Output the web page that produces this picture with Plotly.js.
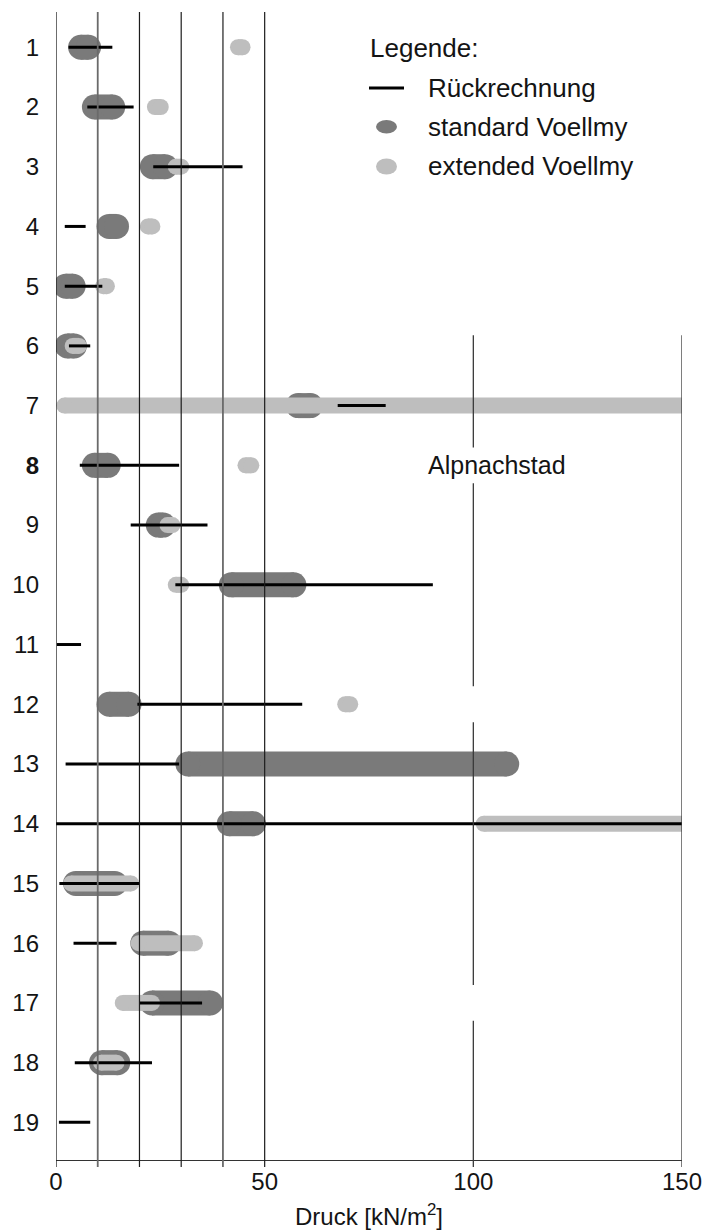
<!DOCTYPE html>
<html>
<head>
<meta charset="utf-8">
<script src="https://cdn.plot.ly/plotly-3.0.1.min.js"></script>
<style>
  html, body { margin: 0; padding: 0; background: #ffffff; }
  #chart { width: 703px; height: 1231px; }
</style>
</head>
<body>
<div id="chart"></div>
<script>
// ---------------- data ----------------
const rows = [1, 2, 3, 4, 5, 6, 7, 8, 9, 10, 11, 12, 13, 14, 15, 16, 17, 18, 19];
const rowLabels = ['1', '2', '3', '4', '5', '6', '7', '<b>8</b>', '9', '10', '11', '12', '13', '14', '15', '16', '17', '18', '19'];

// Rückrechnung (back-calculation) ranges [kN/m²]
const rueckLo = [3.0, 7.5, 23.3, 2.1, 2.1, 3.1, 67.5, 5.7, 17.9, 28.6, 0.2, 19.5, 2.3, 0.0, 0.8, 4.2, 20.0, 4.5, 0.7];
const rueckHi = [13.5, 18.6, 44.7, 7.1, 11.1, 8.2, 79.0, 29.5, 36.3, 90.3, 6.0, 59.0, 29.5, 150.0, 20.0, 14.5, 35.0, 23.0, 8.2];

// standard Voellmy ranges
const stdLo = [5.9, 9.2, 23.1, 12.7, 2.3, 2.7, 58.0, 9.2, 24.5, 42.0, null, 12.7, 31.6, 41.5, 4.7, 20.8, 23.0, 10.9, null];
const stdHi = [7.8, 13.6, 26.2, 14.5, 4.1, 4.4, 61.0, 12.5, 25.7, 57.0, null, 17.5, 108.0, 47.3, 14.1, 27.0, 37.0, 14.8, null];

// extended Voellmy ranges
const extLo = [43.6, 23.7, 28.7, 22.0, 11.3, 4.0, 2.0, 45.4, 26.7, 28.7, null, 69.3, null, 102.5, 3.6, 19.8, 16.0, 10.8, null];
const extHi = [44.7, 25.1, 30.0, 23.1, 12.2, 5.5, 155.0, 46.8, 27.9, 30.0, null, 70.5, null, 155.0, 18.0, 33.3, 23.0, 14.5, null];

const xTickVals = [0, 50, 100, 150];
const xTickText = ['0', '50', '100', '150'];
const gridFull = [0, 10, 20, 30, 40, 50];
const gridPartial = [100, 150];
const gapRows100 = [8, 12, 17];

const placeLabel = 'Alpnachstad';
const placeX = 105.7;
const placeRow = 8;

const legendTitle = 'Legende:';
const legendNames = ['Rückrechnung', 'standard Voellmy', 'extended Voellmy'];
const xTitle = 'Druck [kN/m<sup>2</sup>]';

// ---------------- styles ----------------
const DARK = '#7a7a7a';
const LIGHT = '#bebebe';
const BLACK = '#000000';
const FONT = 'Liberation Sans, Arial, Helvetica, sans-serif';
const TXT = '#141414';
const gridColor = {0: '#1c1c1c', 10: '#6a6a6a', 20: '#1c1c1c', 30: '#1c1c1c', 40: '#6a6a6a', 50: '#1c1c1c'};
const gridWidth = {0: 1.3, 10: 1.8, 20: 1.2, 30: 1.2, 40: 1.8, 50: 1.2};
const Y_TOP = 0.41, Y_BOT = 19.63;
const PARTIAL_TOP = 5.82;
const GAP_HALF = 0.3;
const TICK_PX = 7;

// layout geometry (pixels)
const W = 703, H = 1231;
const M = {l: 56, r: 21, t: 12, b: 71};
const plotW = W - M.l - M.r, plotH = H - M.t - M.b;
const px = v => (v - M.l) / plotW;          // pixel x -> paper
const py = v => (H - M.b - v) / plotH;      // pixel y -> paper
const tickBelow = -TICK_PX / plotH;

function segments(lo, hi) {
  const x = [], y = [];
  for (let i = 0; i < rows.length; i++) {
    if (lo[i] === null || hi[i] === null) continue;
    x.push(lo[i], hi[i], null);
    y.push(rows[i], rows[i], null);
  }
  return {x, y};
}

const sStd = segments(stdLo, stdHi);
const sExt = segments(extLo, extHi);
const sRueck = segments(rueckLo, rueckHi);

const traces = [
  {
    type: 'scatter', mode: 'lines+markers', name: legendNames[1],
    x: sStd.x, y: sStd.y, connectgaps: false, cliponaxis: true,
    line: {color: DARK, width: 25},
    marker: {color: DARK, size: 25, line: {width: 0}},
    showlegend: false, hoverinfo: 'skip'
  },
  {
    type: 'scatter', mode: 'lines+markers', name: legendNames[2],
    x: sExt.x, y: sExt.y, connectgaps: false, cliponaxis: true,
    line: {color: LIGHT, width: 16},
    marker: {color: LIGHT, size: 16, line: {width: 0}},
    showlegend: false, hoverinfo: 'skip'
  },
  {
    type: 'scatter', mode: 'lines', name: legendNames[0],
    x: sRueck.x, y: sRueck.y, connectgaps: false,
    line: {color: BLACK, width: 3},
    showlegend: false, hoverinfo: 'skip'
  }
];

const shapes = [];
gridFull.forEach(v => {
  shapes.push({type: 'line', xref: 'x', yref: 'paper', x0: v, x1: v, y0: tickBelow, y1: 1,
    line: {color: gridColor[v], width: gridWidth[v]}, layer: 'above'});
});
gridPartial.forEach(v => {
  let cuts = [PARTIAL_TOP];
  if (v === 100) gapRows100.forEach(g => { cuts.push(g - GAP_HALF, g + GAP_HALF); });
  cuts.push(Y_BOT);
  for (let i = 0; i < cuts.length; i += 2) {
    shapes.push({type: 'line', xref: 'x', yref: 'y', x0: v, x1: v, y0: cuts[i], y1: cuts[i + 1],
      line: {color: '#3a3a3a', width: 1.3}, layer: 'above'});
  }
  // tick mark below the axis
  shapes.push({type: 'line', xref: 'x', yref: 'paper', x0: v, x1: v, y0: tickBelow, y1: 0,
    line: {color: '#3a3a3a', width: 1.3}, layer: 'above'});
});

// manual legend
shapes.push({type: 'line', xref: 'paper', yref: 'paper', x0: px(369), x1: px(404), y0: py(88), y1: py(88),
  line: {color: BLACK, width: 3}, layer: 'above'});
shapes.push({type: 'circle', xref: 'paper', yref: 'paper', x0: px(376), x1: px(397), y0: py(120), y1: py(133.5),
  fillcolor: DARK, line: {width: 0}, layer: 'above'});
shapes.push({type: 'circle', xref: 'paper', yref: 'paper', x0: px(376), x1: px(397), y0: py(158.5), y1: py(174.5),
  fillcolor: LIGHT, line: {width: 0}, layer: 'above'});

const annotations = [
  {xref: 'paper', yref: 'paper', x: px(368), y: py(48), xanchor: 'left', yanchor: 'middle',
   text: legendTitle, showarrow: false, font: {family: FONT, size: 26, color: TXT}},
  {xref: 'paper', yref: 'paper', x: px(426), y: py(88), xanchor: 'left', yanchor: 'middle',
   text: legendNames[0], showarrow: false, font: {family: FONT, size: 26, color: TXT}},
  {xref: 'paper', yref: 'paper', x: px(426), y: py(127), xanchor: 'left', yanchor: 'middle',
   text: legendNames[1], showarrow: false, font: {family: FONT, size: 26, color: TXT}},
  {xref: 'paper', yref: 'paper', x: px(426), y: py(166), xanchor: 'left', yanchor: 'middle',
   text: legendNames[2], showarrow: false, font: {family: FONT, size: 26, color: TXT}},
  {xref: 'x', yref: 'y', x: placeX, y: placeRow, xanchor: 'center', yanchor: 'middle',
   text: placeLabel, showarrow: false, font: {family: FONT, size: 25, color: TXT}}
];

const layout = {
  width: W, height: H,
  margin: M,
  paper_bgcolor: '#ffffff', plot_bgcolor: '#ffffff',
  showlegend: false,
  font: {family: FONT, color: TXT},
  xaxis: {
    range: [0, 150], fixedrange: true,
    tickmode: 'array', tickvals: xTickVals, ticktext: xTickText,
    ticks: '',
    showgrid: false, zeroline: false,
    showline: true, linecolor: '#333333', linewidth: 1.2,
    tickfont: {family: FONT, size: 24, color: TXT},
    title: {text: xTitle, font: {family: FONT, size: 24, color: TXT}, standoff: 14}
  },
  yaxis: {
    range: [Y_BOT, Y_TOP], fixedrange: true,
    tickmode: 'array', tickvals: rows, ticktext: rowLabels,
    ticks: '', showgrid: false, zeroline: false, showline: false,
    ticklabelstandoff: 16,
    tickfont: {family: FONT, size: 24, color: TXT}
  },
  shapes: shapes,
  annotations: annotations
};

Plotly.newPlot('chart', traces, layout, {staticPlot: true, displayModeBar: false});
</script>
</body>
</html>
